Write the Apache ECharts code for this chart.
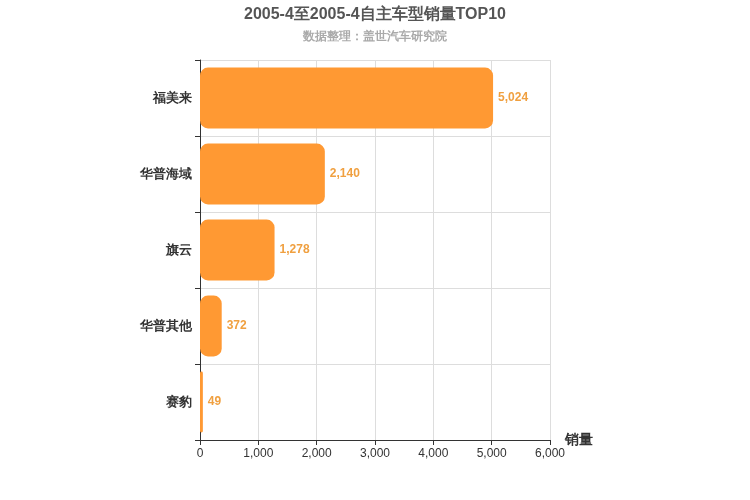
<!DOCTYPE html>
<html><head><meta charset="utf-8">
<script src="https://cdn.jsdelivr.net/npm/echarts@6/dist/echarts.min.js"></script>
</head><body style="margin:0">
<div id="c" style="width:750px;height:500px"></div>
<script>
const categories = ['福美来','华普海域','旗云','华普其他','赛豹'];
const sales = [5024, 2140, 1278, 372, 49];
const xTicks = [0,1000,2000,3000,4000,5000,6000];
const chart = echarts.init(document.getElementById('c'));
chart.setOption({
  title: {text:'2005-4至2005-4自主车型销量TOP10', subtext:'数据整理：盖世汽车研究院', left:'center', top:2,
    textStyle:{fontSize:16,fontWeight:'bold',color:'#555'}, subtextStyle:{fontSize:12,color:'#aaa',fontWeight:'bold'}, itemGap:8},
  grid:{left:200, right:200, top:60, bottom:60},
  xAxis:{type:'value', min:xTicks[0], max:xTicks[xTicks.length-1], interval:1000, name:'销量',
    nameTextStyle:{fontSize:14,fontWeight:'bold',color:'#333',padding:[28,0,0,0]},
    axisLine:{show:true,lineStyle:{color:'#333'}}, axisTick:{show:true},
    axisLabel:{color:'#333',formatter:v=>v.toLocaleString('en-US')}, splitLine:{lineStyle:{color:'#ddd'}}},
  yAxis:{type:'category', data:categories, inverse:true,
    axisLine:{lineStyle:{color:'#333'}}, axisTick:{show:true},
    axisLabel:{color:'#333',fontWeight:'bold',fontSize:13}, splitLine:{show:true,lineStyle:{color:'#ddd'}}},
  series:[{type:'bar', data:sales, barWidth:'80%',
    itemStyle:{color:'#FF9933',borderRadius:8},
    label:{show:true,position:'right',color:'#F0A040',fontWeight:'bold',formatter:p=>p.value.toLocaleString('en-US')}}]
});
</script></body></html>
